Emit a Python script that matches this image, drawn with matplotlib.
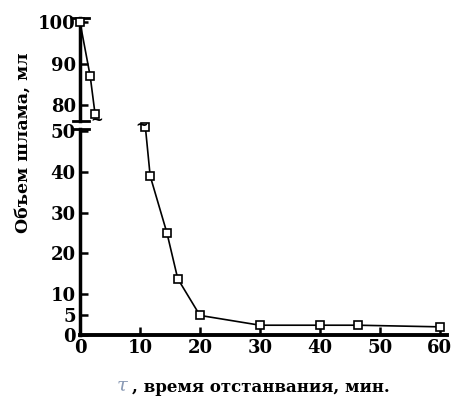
import matplotlib
matplotlib.use("Agg")
import matplotlib.pyplot as plt

# data
t_upper = [0, 1.7, 2.5]
v_upper = [100, 87, 78]
t_lower = [10.9, 11.7, 14.5, 16.3, 20, 30, 40, 46.3, 60]
v_lower = [51, 39, 25, 13.8, 4.8, 2.4, 2.4, 2.4, 2.0]
x_ticks = [0, 10, 20, 30, 40, 50, 60]
y_ticks_lower = [0, 5, 10, 20, 30, 40, 50]
y_ticks_upper = [80, 90, 100]

plt.rcParams['font.family'] = ['DejaVu Serif']
plt.rcParams['font.weight'] = 'bold'

W, H = 452, 397
fig = plt.figure(figsize=(W / 100, H / 100), dpi=100)

def rect(l, r, t, b):
    return [l / W, 1 - b / H, (r - l) / W, (b - t) / H]

ax_lo = fig.add_axes(rect(80, 447, 129, 335))
ax_up = fig.add_axes(rect(80, 447, 18, 121))

TFS = 13
for ax in (ax_lo, ax_up):
    ax.spines['top'].set_visible(False)
    ax.spines['right'].set_visible(False)
    ax.spines['left'].set_linewidth(2.5)
    ax.spines['bottom'].set_linewidth(2.8)
    ax.tick_params(direction='in', width=1.8, length=6, labelsize=TFS, pad=3)
    ax.set_xlim(0, 61.2)

ax_up.spines['bottom'].set_visible(False)
ax_up.tick_params(axis='x', bottom=False, labelbottom=False)

line_kw = dict(color='black', lw=1.2, marker='s', ms=6, mfc='white',
               mec='black', mew=1.2, clip_on=False, zorder=3)
ax_up.plot(t_upper, v_upper, **line_kw)
ax_lo.plot(t_lower, v_lower, **line_kw)

ax_up.set_ylim(76.2, 101)
ax_up.set_yticks(y_ticks_upper)
ax_lo.set_ylim(0, 50.5)
ax_lo.set_yticks(y_ticks_lower)
ax_lo.set_xticks(x_ticks)

ax_up.set_yticklabels([str(v) for v in y_ticks_upper], fontweight='bold', fontsize=TFS)
ax_lo.set_yticklabels([str(v) for v in y_ticks_lower], fontweight='bold', fontsize=TFS)
ax_lo.set_xticklabels([str(v) for v in x_ticks], fontweight='bold', fontsize=TFS)

# axis break caps
for ax, ypos in ((ax_up, 0), (ax_up, 1), (ax_lo, 1)):
    ax.plot([-0.02, 0.025], [ypos, ypos], transform=ax.transAxes,
            color='black', lw=2, clip_on=False)

# curve break marks
ax_up.text(t_upper[-1] + 0.3, 76.4, '~', ha='center', va='center',
           fontsize=11, color='black')
ax_lo.text(t_lower[0] - 0.6, v_lower[0] + 0.6, '~', ha='center', va='center',
           fontsize=11, color='black')

fig.text(23 / W, 1 - 143 / H, 'Объем шлама, мл', rotation=90, ha='center',
         va='center', fontsize=12.5, fontweight='bold')
fig.text(117 / W, 1 - 386 / H, 'τ', ha='left', va='center', fontsize=14,
         style='italic', color='#8a9ab5', fontweight='normal')
fig.text(132 / W, 1 - 387 / H, ', время отстанвания, мин.', ha='left',
         va='center', fontsize=12, fontweight='bold')

fig.savefig('out.png', dpi=100)
